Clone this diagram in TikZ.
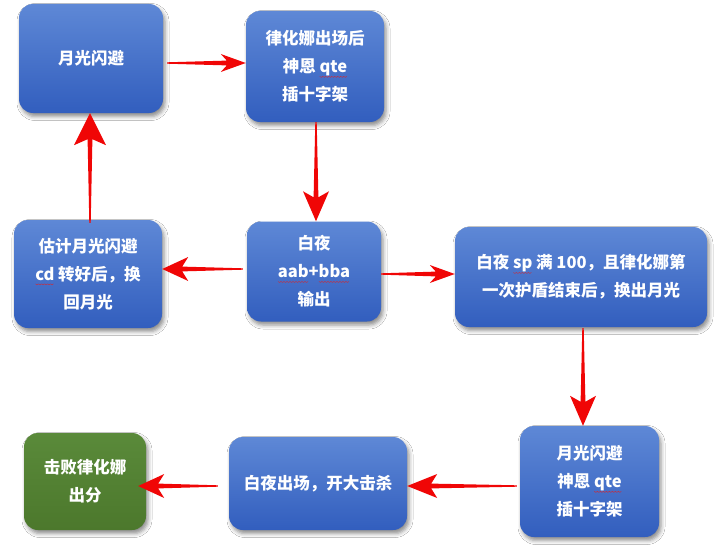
\documentclass[tikz,border=0pt]{standalone}
\usepackage{fontspec}
\setmainfont{Noto Sans CJK SC}
\usetikzlibrary{calc,shadows.blur}
\definecolor{btop}{RGB}{94,136,214}
\definecolor{bbot}{RGB}{50,94,190}
\definecolor{gtop}{RGB}{90,138,58}
\definecolor{gbot}{RGB}{76,120,44}
\definecolor{ared}{RGB}{240,6,6}
\definecolor{wavered}{RGB}{200,45,60}
\newbox\wvbox \newcount\wvk \newcount\wvn \newdimen\wvx \newdimen\wvd
\newcommand\spellwave[1]{%
  \setbox\wvbox=\hbox{#1}%
  \wvd=\wd\wvbox \divide\wvd by 98304 \wvn=\wvd
  \rlap{\begin{pgfpicture}\pgfsetbaseline{0pt}%
    \pgfsetcornersarced{\pgfpointorigin}%
    \pgfsetstrokecolor{wavered}\pgfsetlinewidth{0.45pt}%
    \wvk=0 \wvx=0pt
    \pgfpathmoveto{\pgfpoint{0pt}{-3.6pt}}%
    \loop\ifnum\wvk<\wvn
      \advance\wvk by 1 \advance\wvx by 1.5pt
      \ifodd\wvk \def\wvy{-4.6pt}\else\def\wvy{-3.6pt}\fi
      \pgfpathlineto{\pgfpoint{\wvx}{\wvy}}%
    \repeat
    \pgfusepath{stroke}\end{pgfpicture}}%
  \box\wvbox}
\tikzset{
  box/.style={rounded corners=14pt, text=white, font=\bfseries\fontsize{16.5}{28}\selectfont,
    align=center, inner sep=0pt,
    blur shadow={shadow xshift=2pt, shadow yshift=-3.5pt, shadow blur radius=4pt, shadow opacity=45}},
  bluebox/.style={box, top color=btop, bottom color=bbot},
  greenbox/.style={box, top color=gtop, bottom color=gbot},
  fahl/.store in=\fahl, fahw/.store in=\fahw, fahl=25pt, fahw=10pt,
  fat/.style={fill=ared, draw=none, to path={
    let \p1=(\tikztostart), \p2=(\tikztotarget),
        \n1={atan2(\y2-\y1,\x2-\x1)}, \n2={veclen(\x2-\x1,\y2-\y1)} in
    ([shift={(\p1)},rotate=\n1]0pt,0.7pt)
    -- ([shift={(\p1)},rotate=\n1]\n2-\fahl+6pt,2.4pt)
    -- ([shift={(\p1)},rotate=\n1]\n2-\fahl,\fahw)
    -- (\p2)
    -- ([shift={(\p1)},rotate=\n1]\n2-\fahl,-\fahw)
    -- ([shift={(\p1)},rotate=\n1]\n2-\fahl+6pt,-2.4pt)
    -- ([shift={(\p1)},rotate=\n1]0pt,-0.7pt) -- cycle}}
}
\begin{document}
\begin{tikzpicture}[x=1pt,y=-1pt]
\useasboundingbox[fill=white] (0,0) rectangle (720,551);
\node[bluebox, minimum width=144pt, minimum height=109pt] (n1) at (91,58.5) {月光闪避};
\node[bluebox, minimum width=138pt, minimum height=111pt] (n2) at (315,66.5) {律化娜出场后\\神恩 \spellwave{qte}\\插十字架};
\node[bluebox, minimum width=148pt, minimum height=108pt] (n3) at (88,274) {估计月光闪避\\\spellwave{cd} 转好后，换\\回月光};
\node[bluebox, minimum width=134pt, minimum height=100pt] (n4) at (314,271.5) {白夜\\\spellwave{aab}+\spellwave{bba}\\输出};
\node[bluebox, minimum width=252pt, minimum height=100pt] (n5) at (581,277) {白夜 \spellwave{sp} 满 100，且律化娜第\\一次护盾结束后，换出月光};
\node[bluebox, minimum width=139pt, minimum height=111pt] (n6) at (589.5,481.5) {月光闪避\\神恩 \spellwave{qte}\\插十字架};
\node[bluebox, minimum width=178pt, minimum height=93pt] (n7) at (318,483.5) {白夜出场，开大击杀};
\node[greenbox, minimum width=122pt, minimum height=97pt] (n8) at (85,481.5) {击败律化娜\\出分};

\path[fat, fahl=25pt, fahw=9pt] ($(n1.east |- 0,63)+(4pt,0)$) to (n2.west |- 0,63);
\path[fat, fahl=30pt, fahw=13pt] (n2.south -| 316,0) to (n4.north -| 316,0);
\path[fat, fahl=26pt, fahw=12pt] ($(n4.west |- 0,269)+(-4pt,0)$) to (n3.east |- 0,269);
\path[fat, fahl=32pt, fahw=16pt] ($(n3.north -| 90,0)+(0,-3pt)$) to (n1.south -| 90,0);
\path[fat, fahl=25pt, fahw=9pt] (n4.east |- 0,274) to (n5.west |- 0,274);
\path[fat, fahl=30pt, fahw=13pt] ($(n5.south -| 583,0)+(0,-1pt)$) to (n6.north -| 583,0);
\path[fat, fahl=30pt, fahw=12pt] ($(n6.west |- 0,486)+(-3pt,0)$) to (n7.east |- 0,486);
\path[fat, fahl=26pt, fahw=12pt] ($(n7.west |- 0,486)+(-11pt,0)$) to ($(n8.east |- 0,486)+(-8pt,0)$);
\end{tikzpicture}
\end{document}
